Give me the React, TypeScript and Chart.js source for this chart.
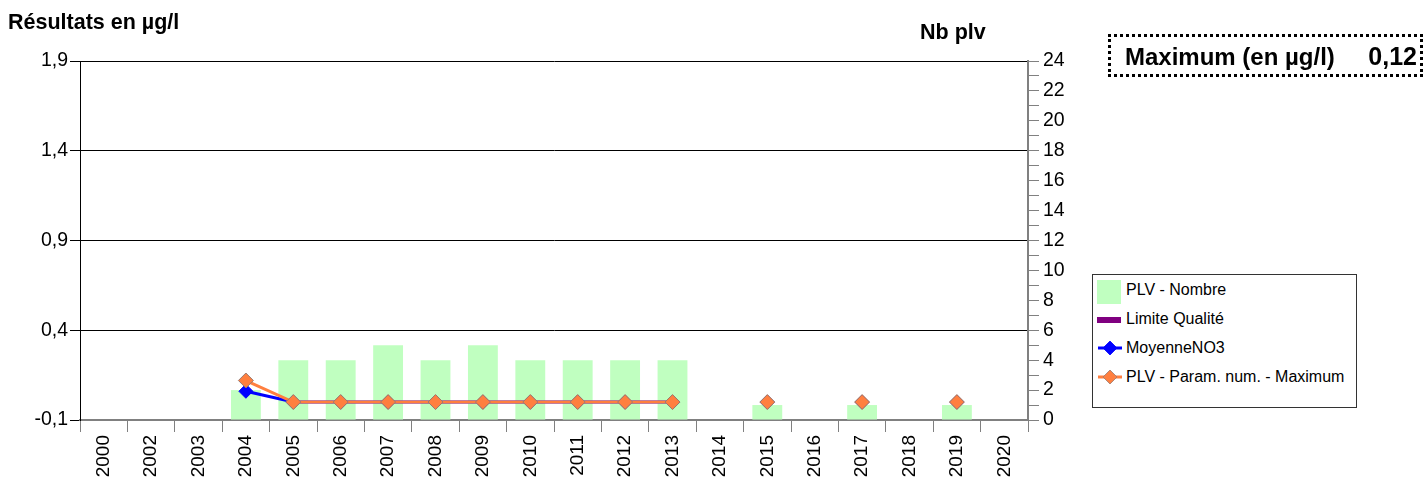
import React, { useEffect, useRef } from 'react';
import { Chart, registerables } from 'chart.js';

Chart.register(...registerables);

const YEARS = ['2000', '2002', '2003', '2004', '2005', '2006', '2007', '2008', '2009', '2010', '2011', '2012', '2013', '2014', '2015', '2016', '2017', '2018', '2019', '2020'];
const PLV_NOMBRE = [null, null, null, 2, 4, 4, 5, 4, 5, 4, 4, 4, 4, null, 1, null, 1, null, 1, null];
const LIMITE_QUALITE = [null, null, null, null, null, null, null, null, null, null, null, null, null, null, null, null, null, null, null, null];
const MOYENNE_NO3 = [null, null, null, 0.06, 0, 0, 0, 0, 0, 0, 0, 0, 0, null, 0, null, 0, null, 0, null];
const PLV_MAXIMUM = [null, null, null, 0.12, 0, 0, 0, 0, 0, 0, 0, 0, 0, null, 0, null, 0, null, 0, null];
const LEFT_TICKS = [-0.1, 0.4, 0.9, 1.4, 1.9];
const RIGHT_TICKS = [0, 1, 2, 3, 4, 5, 6, 7, 8, 9, 10, 11, 12, 13, 14, 15, 16, 17, 18, 19, 20, 21, 22, 23, 24];
const MAX_LABEL = 'Maximum (en µg/l)';
const MAX_VALUE = '0,12';

const FONT = '"Liberation Sans", Arial, Helvetica, sans-serif';
const GREEN = '#C0FFC0';
const PURPLE = '#800080';
const BLUE = '#0000FF';
const ORANGE = '#FF7F3F';

function Diamond({ color, stroke }: { color: string; stroke?: string }) {
  return (
    <svg width={26} height={16} style={{ display: 'block' }}>
      <line x1={1} y1={8} x2={25} y2={8} stroke={color} strokeWidth={3} />
      <polygon points="13,1 20,8 13,15 6,8" fill={color} stroke={stroke || color} strokeWidth={0.8} />
    </svg>
  );
}

export default function App() {
  const ref = useRef<HTMLCanvasElement | null>(null);

  useEffect(() => {
    if (!ref.current) return;
    const chart = new Chart(ref.current, {
      type: 'bar',
      data: {
        labels: YEARS,
        datasets: [
          {
            type: 'bar',
            label: 'PLV - Nombre',
            data: PLV_NOMBRE,
            yAxisID: 'y1',
            backgroundColor: GREEN,
            borderWidth: 0,
            barPercentage: 0.63,
            categoryPercentage: 1,
            order: 3,
          } as any,
          {
            type: 'line',
            label: 'Limite Qualité',
            data: LIMITE_QUALITE,
            yAxisID: 'y',
            borderColor: PURPLE,
            backgroundColor: PURPLE,
            borderWidth: 5,
            pointRadius: 0,
            order: 2,
          } as any,
          {
            type: 'line',
            label: 'MoyenneNO3',
            data: MOYENNE_NO3,
            yAxisID: 'y',
            borderColor: BLUE,
            backgroundColor: BLUE,
            borderWidth: 3,
            pointStyle: 'rectRot',
            pointRadius: 7,
            pointBackgroundColor: BLUE,
            pointBorderColor: BLUE,
            pointBorderWidth: 1,
            tension: 0,
            spanGaps: false,
            order: 1,
          } as any,
          {
            type: 'line',
            label: 'PLV - Param. num. - Maximum',
            data: PLV_MAXIMUM,
            yAxisID: 'y',
            borderColor: ORANGE,
            backgroundColor: ORANGE,
            borderWidth: 3,
            pointStyle: 'rectRot',
            pointRadius: 7.5,
            pointBackgroundColor: ORANGE,
            pointBorderColor: '#9a7a70',
            pointBorderWidth: 1,
            tension: 0,
            spanGaps: false,
            order: 0,
          } as any,
        ],
      },
      options: {
        animation: false,
        responsive: false,
        maintainAspectRatio: false,
        layout: { padding: { top: 61, left: 0, right: 0, bottom: 0 } },
        plugins: {
          legend: { display: false },
          tooltip: { enabled: false },
          title: { display: false },
        },
        scales: {
          x: {
            type: 'category',
            offset: true,
            grid: {
              offset: true,
              drawOnChartArea: false,
              drawTicks: true,
              tickLength: 12,
              color: '#808080',
              lineWidth: 1,
            },
            border: { display: true, color: '#808080', width: 2 },
            ticks: {
              autoSkip: false,
              minRotation: 90,
              maxRotation: 90,
              padding: 3,
              color: '#000',
              font: { family: FONT, size: 19 },
            },
            afterFit: (s: any) => {
              s.height = 61;
            },
          } as any,
          y: {
            type: 'linear',
            position: 'left',
            min: -0.1,
            max: 1.9,
            afterBuildTicks: (s: any) => {
              s.ticks = LEFT_TICKS.map((v) => ({ value: v }));
            },
            grid: {
              color: '#000',
              lineWidth: 1,
              drawTicks: true,
              tickLength: 10,
            },
            border: { display: true, color: '#000', width: 1 },
            ticks: {
              autoSkip: false,
              padding: 2,
              color: '#000',
              font: { family: FONT, size: 19.5 },
              callback: (v: any) => Number(v).toFixed(1).replace('.', ','),
            },
            afterFit: (s: any) => {
              s.width = 80;
            },
          } as any,
          y1: {
            type: 'linear',
            position: 'right',
            min: 0,
            max: 24,
            afterBuildTicks: (s: any) => {
              s.ticks = RIGHT_TICKS.map((v) => ({ value: v }));
            },
            grid: {
              drawOnChartArea: false,
              drawTicks: true,
              tickLength: 11,
              color: '#808080',
              lineWidth: 1,
            },
            border: { display: true, color: '#808080', width: 2 },
            ticks: {
              autoSkip: false,
              padding: 4,
              color: '#000',
              font: { family: FONT, size: 19.5 },
              callback: (v: any) => (Number(v) % 2 === 0 ? String(v) : ''),
            },
            afterFit: (s: any) => {
              s.width = 398;
            },
          } as any,
        },
      },
    });
    return () => chart.destroy();
  }, []);

  const legendItems = [
    {
      label: 'PLV - Nombre',
      icon: <div style={{ width: 24, height: 24, background: GREEN }} />,
      top: 5,
      textTop: 15,
    },
    {
      label: 'Limite Qualité',
      icon: <div style={{ width: 24, height: 6, background: PURPLE }} />,
      top: 42,
      textTop: 44,
    },
    {
      label: 'MoyenneNO3',
      icon: <Diamond color={BLUE} />,
      top: 65,
      textTop: 73,
    },
    {
      label: 'PLV - Param. num. - Maximum',
      icon: <Diamond color={ORANGE} stroke="#9a7a70" />,
      top: 94,
      textTop: 102,
    },
  ];

  return (
    <div style={{ position: 'fixed', left: 0, top: 0, width: 1426, height: 481, background: '#fff', fontFamily: FONT }}>
      <canvas ref={ref} width={1426} height={481} style={{ position: 'absolute', left: 0, top: 0, width: 1426, height: 481 }} />
      <div style={{ position: 'absolute', left: 8, top: 10, fontWeight: 'bold', fontSize: 21.5, lineHeight: '24px', color: '#000', whiteSpace: 'nowrap' }}>
        Résultats en µg/l
      </div>
      <div style={{ position: 'absolute', left: 920, top: 20, fontWeight: 'bold', fontSize: 21.5, lineHeight: '24px', color: '#000', whiteSpace: 'nowrap' }}>
        Nb plv
      </div>
      <div
        style={{
          position: 'absolute',
          left: 1108,
          top: 34,
          width: 315,
          height: 43,
          boxSizing: 'border-box',
          border: '3px dotted #000',
          display: 'flex',
          alignItems: 'center',
          justifyContent: 'space-between',
          padding: '2px 3px 0 14px',
          fontWeight: 'bold',
          fontSize: 24,
          color: '#000',
          whiteSpace: 'nowrap',
        }}
      >
        <span>{MAX_LABEL}</span>
        <span style={{ fontSize: 25 }}>{MAX_VALUE}</span>
      </div>
      <div
        style={{
          position: 'absolute',
          left: 1092,
          top: 274,
          width: 265,
          height: 134,
          boxSizing: 'border-box',
          border: '1px solid #333',
          background: '#fff',
        }}
      >
        {legendItems.map((it) => (
          <React.Fragment key={it.label}>
            <div style={{ position: 'absolute', left: 4, top: it.top }}>{it.icon}</div>
            <div
              style={{
                position: 'absolute',
                left: 33,
                top: it.textTop - 10,
                height: 20,
                lineHeight: '20px',
                fontSize: 16,
                color: '#000',
                whiteSpace: 'nowrap',
              }}
            >
              {it.label}
            </div>
          </React.Fragment>
        ))}
      </div>
    </div>
  );
}
